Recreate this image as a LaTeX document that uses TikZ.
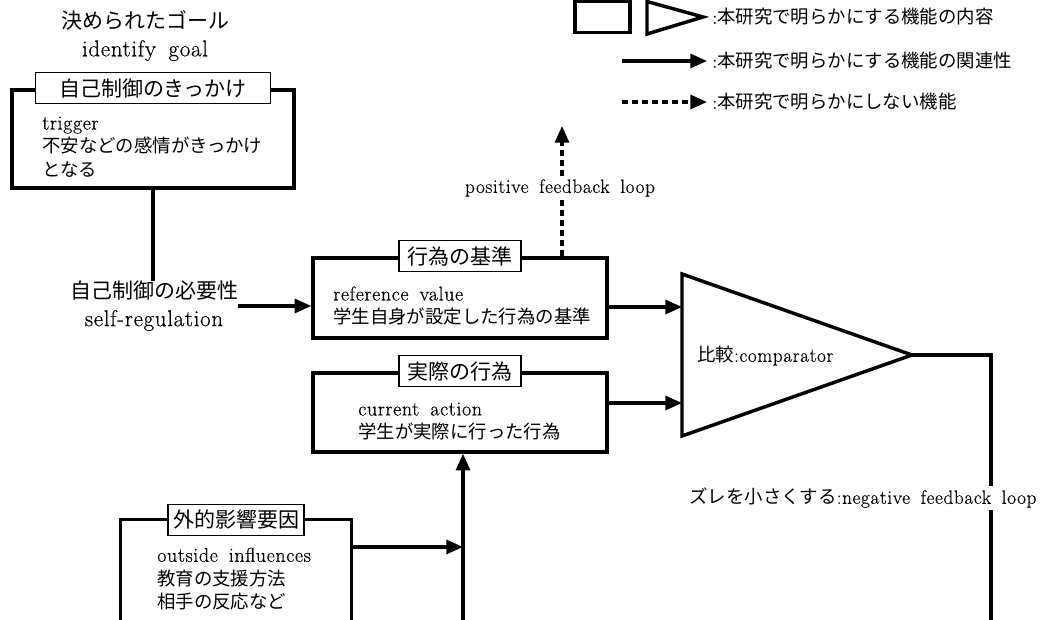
\documentclass[tikz,border=0pt]{standalone}
\usepackage{fontspec}
\setmainfont{Latin Modern Roman}[LetterSpace=3,FakeBold=0.4]
\newfontfamily\jp{Noto Sans CJK JP}
\usetikzlibrary{arrows.meta}
\newcommand\ws{\hspace{0.55em}}
\begin{document}
\begin{tikzpicture}[x=0.75pt,y=-0.75pt,
  box/.style={draw,line width=2.6pt,inner sep=0pt},
  ttl/.style={draw,fill=white,line width=0.9pt,minimum height=23.25pt,inner sep=0pt,font=\jp\fontsize{15.75}{18}\selectfont},
  body/.style={anchor=west,align=left,inner sep=0pt,font=\fontsize{15}{17.6}\selectfont},
  big/.style={align=center,inner sep=0pt,font=\fontsize{17.2}{20.5}\selectfont},
  conn/.style={line width=2.3pt},
  arr/.style={conn,-{Triangle[length=12.5pt,width=10.5pt]}},
  dsh/.style={arr,dash pattern=on 4.5pt off 3pt},
  lbl/.style={fill=white,inner sep=2pt,font=\fontsize{14.5}{17}\selectfont},
  leg/.style={anchor=west,inner sep=0pt,font=\fontsize{14}{17}\selectfont}]
\useasboundingbox (0,0) rectangle (1045,620);

% ---------- legend ----------
\node[draw,line width=2.6pt,minimum width=41.25pt,minimum height=22.9pt,inner sep=0pt] (legR) at (602.5,17) {};
\coordinate (lgA) at (647,1.5);
\coordinate (lgB) at (703,17);
\coordinate (lgC) at (647,34);
\draw[line width=2.6pt,line join=miter] (lgA) -- (lgB) -- (lgC) -- cycle;
\node[leg] (leg1) at (712,17) {:{\jp\fontsize{13.8}{17}\selectfont 本研究で明らかにする機能の内容}};
\coordinate (l1a) at (622,61);
\coordinate (l1b) at (707,61);
\draw[arr] (l1a) -- (l1b);
\node[leg] (leg2) at (712,61) {:{\jp\fontsize{13.8}{17}\selectfont 本研究で明らかにする機能の関連性}};
\coordinate (l2a) at (622,102);
\coordinate (l2b) at (707,102);
\draw[dsh] (l2a) -- (l2b);
\node[leg] (leg3) at (712,102) {:{\jp\fontsize{13.8}{17}\selectfont 本研究で明らかにしない機能}};

% ---------- goal ----------
\node[big] (goal) at (145,36) {{\jp\fontsize{15.75}{20.5}\selectfont 決められたゴール}\\identify\ws goal};

% ---------- trigger box ----------
\node[box,minimum width=211.5pt,minimum height=73.5pt] (trig) at (153,139) {};
\node[ttl,minimum width=176.25pt] (t1) at (trig.north) {自己制御のきっかけ};
\node[body] (b1) at (42,147) {trigger\\{\jp\fontsize{13.8}{17.6}\selectfont 不安などの感情がきっかけ}\\{\jp\fontsize{13.8}{17.6}\selectfont となる}};

% ---------- need ----------
\node[big] (need) at (154,306) {{\jp\fontsize{15.75}{20.5}\selectfont 自己制御の必要性}\\self-regulation};
\draw[conn] (trig.south) -- (trig.south |- need.north);

% ---------- reference box ----------
\node[box,minimum width=220.5pt,minimum height=60pt] (ref) at (460,298) {};
\node[body] (b2) at (333,306) {reference\ws value\\{\jp\fontsize{13.8}{17.6}\selectfont 学生自身が設定した行為の基準}};
\draw[arr] (need.east) -- (ref.west |- need.east);

% ---------- current box ----------
\node[box,minimum width=220.5pt,minimum height=59.25pt] (cur) at (460,412.5) {};
\node[body] (b3) at (358,421.5) {current\ws action\\{\jp\fontsize{13.8}{17.6}\selectfont 学生が実際に行った行為}};

% ---------- comparator ----------
\coordinate (tA) at (682,274);
\coordinate (tB) at (912,355);
\coordinate (tC) at (682,436);
\draw[line width=2.6pt,line join=miter] (tA) -- (tB) -- (tC) -- cycle;
\node[leg,font=\fontsize{14.5}{17}\selectfont] (cmp) at (697,356) {{\jp\fontsize{13.8}{17}\selectfont 比較}:comparator};
\coordinate (in1) at (682,307);
\coordinate (in2) at (682,403);
\draw[arr] (ref.east |- in1) -- (in1);
\draw[arr] (cur.east |- in2) -- (in2);

% ---------- positive feedback ----------
\coordinate (pf) at (562,126);
\draw[dsh] (pf |- ref.north) -- (pf);
\node[lbl] (pos) at (560,188) {positive\ws feedback\ws loop};

% ---------- negative feedback ----------
\coordinate (fb1) at (991,355);
\coordinate (fb2) at (991,620);
\draw[conn] (tB) -- (fb1) -- (fb2);
\node[lbl] (neg) at (863,498) {{\jp\fontsize{13.8}{17}\selectfont ズレを小さくする}:negative\ws feedback\ws loop};

% ---------- outside influences ----------
\node[minimum width=172.5pt,minimum height=75pt,inner sep=0pt] (infl) at (236,570) {};
\draw[line width=2.6pt,line join=miter] (infl.south west) -- (infl.north west) -- (infl.north east) -- (infl.south east);
\node[ttl,minimum width=102pt] (t4) at (infl.north) {外的影響要因};
\node[body] (b4) at (157,579) {outside\ws influences\\{\jp\fontsize{13.8}{17.6}\selectfont 教育の支援方法}\\{\jp\fontsize{13.8}{17.6}\selectfont 相手の反応など}};

\coordinate (vb) at (463,620);
\coordinate (jn) at (463,547);
\draw[arr] (vb) -- (vb |- cur.south);
\draw[arr] (jn -| infl.east) -- (jn);

% titles on top of boxes
\node[ttl,minimum width=91.5pt] (t2) at (ref.north) {行為の基準};
\node[ttl,minimum width=91.5pt] (t3) at (cur.north) {実際の行為};
\end{tikzpicture}
\end{document}
